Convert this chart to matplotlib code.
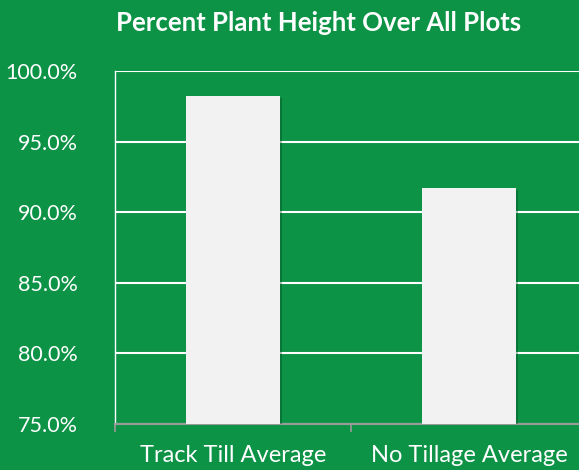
import matplotlib
matplotlib.use("Agg")
import matplotlib.pyplot as plt
import matplotlib.patheffects as pe
from matplotlib.ticker import FuncFormatter, FixedLocator

categories = ["Track Till Average", "No Tillage Average"]
values = [98.2, 91.7]
yticks = [75, 80, 85, 90, 95, 100]

GREEN = "#0C9346"
plt.rcParams['font.family'] = ['Lato', 'DejaVu Sans']

W, H = 579, 470
fig = plt.figure(figsize=(W/100, H/100), dpi=100, facecolor=GREEN)
ax = fig.add_axes([115/W, (H-424)/H, (587-115)/W, (424-71)/H])
ax.set_facecolor(GREEN)

x = list(range(len(categories)))
bars = ax.bar(x, values, width=0.40, color="#F2F2F2", zorder=3)
for b in bars:
    b.set_path_effects([pe.SimplePatchShadow(offset=(1.5, -1.5), shadow_rgbFace="#063d1c", alpha=0.35), pe.Normal()])

ax.set_xlim(-0.5, len(categories) - 0.5)
ax.set_ylim(75, 100)
ax.set_yticks(yticks)
ax.yaxis.set_major_formatter(FuncFormatter(lambda v, p: f"{v:.1f}%"))
ax.grid(axis='y', color='white', linewidth=1.5, zorder=0)
ax.set_axisbelow(True)

ax.set_xticks(x)
ax.set_xticklabels(categories)
ax.xaxis.set_minor_locator(FixedLocator([-0.5, 0.5, 1.5]))
ax.tick_params(axis='x', which='major', length=0, pad=15, labelcolor='white', labelsize=17)
ax.tick_params(axis='x', which='minor', length=6, color='#9a9a9a', width=1.2)
ax.tick_params(axis='y', length=0, pad=27, labelcolor='white', labelsize=15.5)

for s in ['top', 'right']:
    ax.spines[s].set_visible(False)
ax.spines['bottom'].set_color('#9a9a9a')
ax.spines['bottom'].set_linewidth(1.5)
ax.spines['left'].set_color('white')
ax.spines['left'].set_linewidth(1.0)

fig.text(319/W, 1 - 23/H, "Percent Plant Height Over All Plots", color='white',
         fontsize=18.5, fontweight='bold', ha='center', va='center')

fig.savefig("out.png", dpi=100, facecolor=GREEN)
